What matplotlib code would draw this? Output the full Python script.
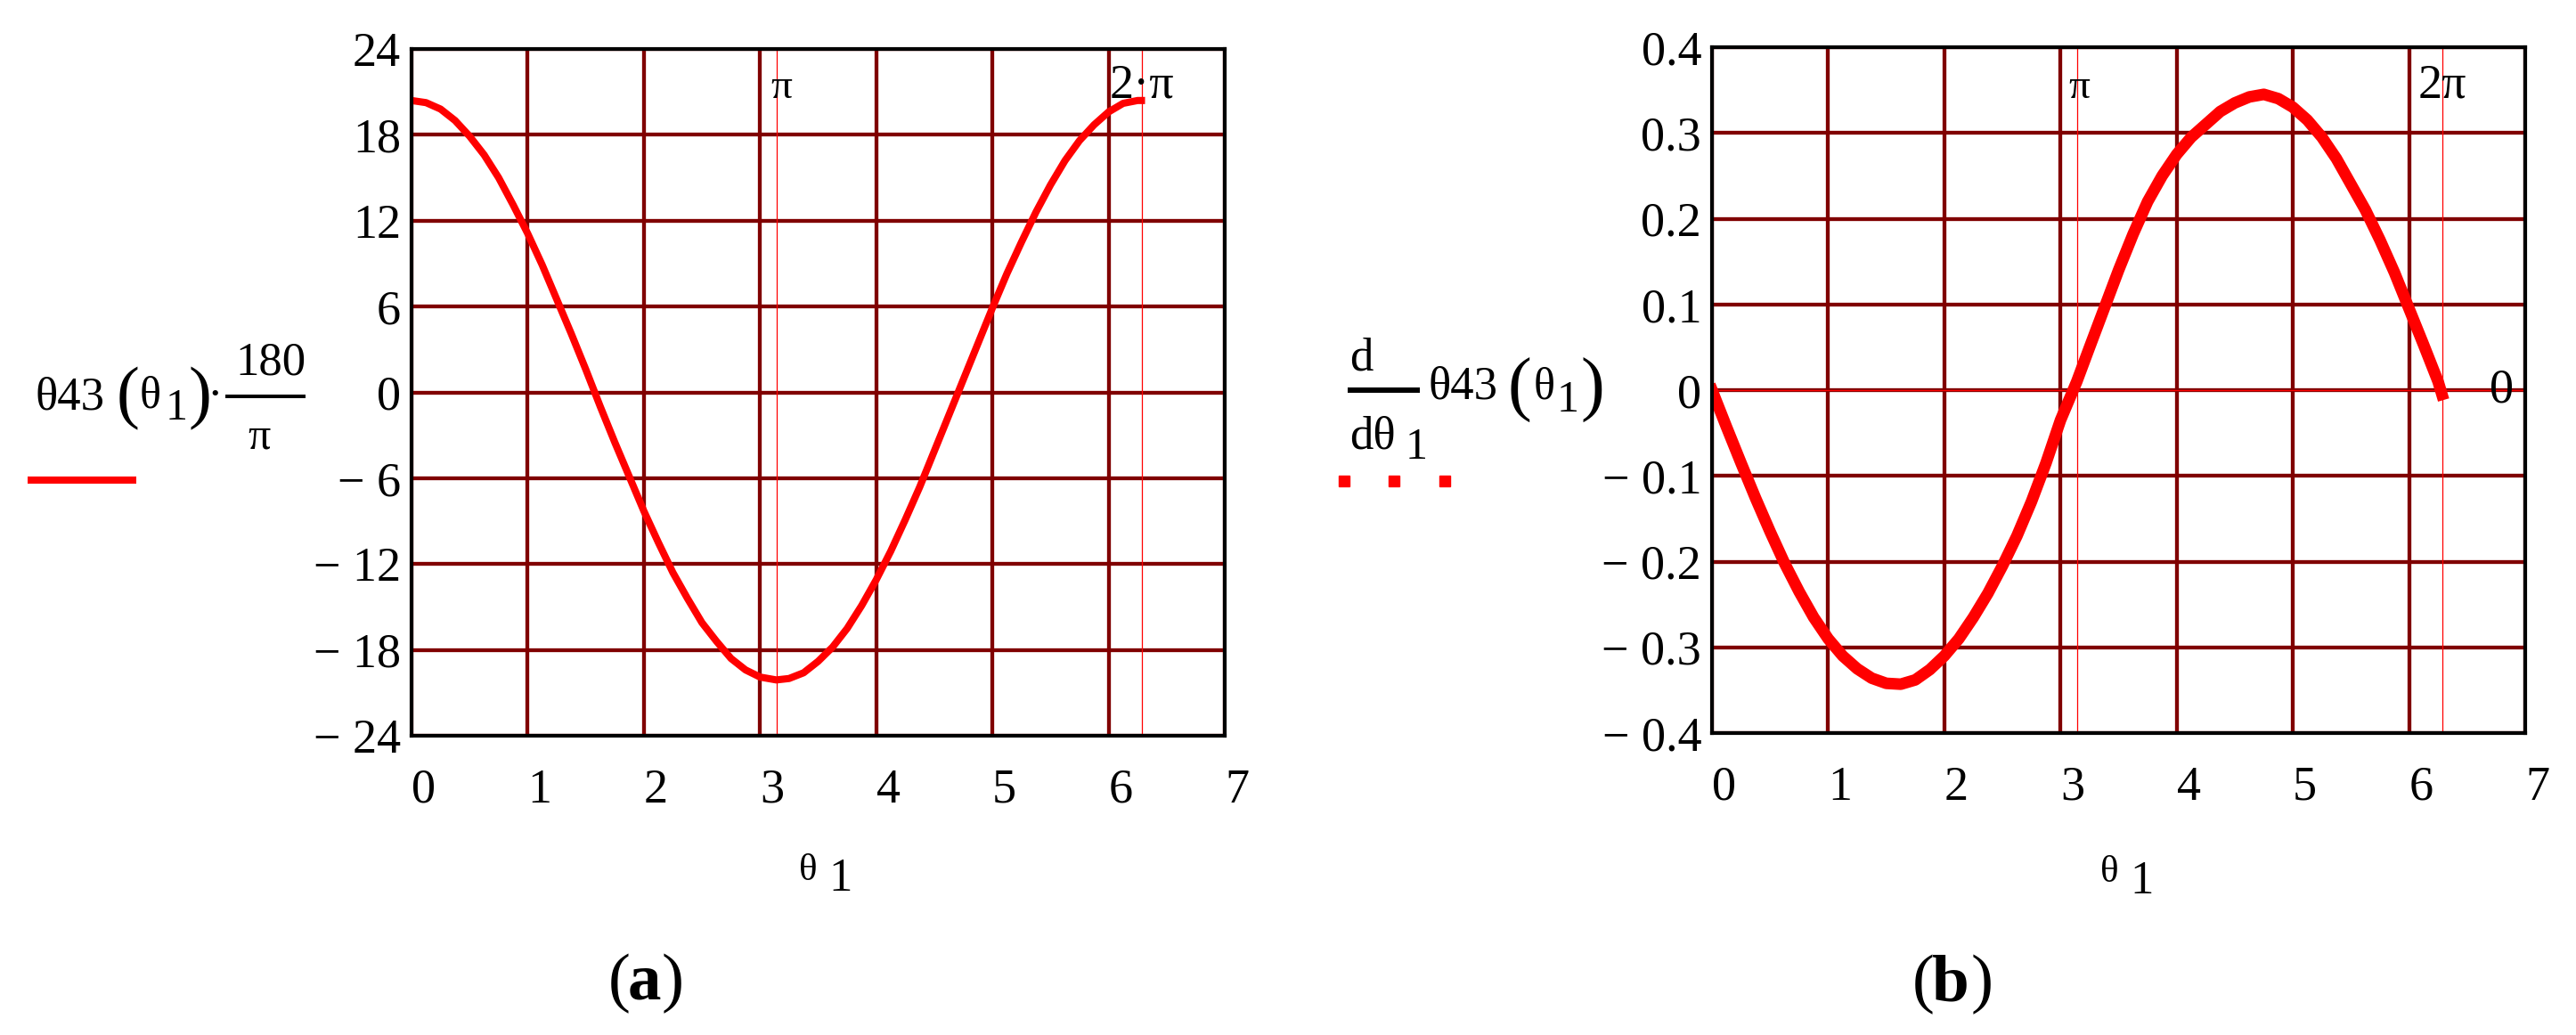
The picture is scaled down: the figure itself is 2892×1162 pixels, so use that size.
import numpy as np
import matplotlib.pyplot as plt
from matplotlib.lines import Line2D

plt.rcParams['font.family'] = ['Liberation Serif', 'DejaVu Serif']

# values
theta1 = [0, 0.125, 0.25, 0.375, 0.5, 0.625, 0.75, 0.875, 1.0, 1.125, 1.25, 1.375, 1.5,
          1.625, 1.75, 1.875, 2.0, 2.125, 2.25, 2.375, 2.5, 2.625, 2.75, 2.875, 3.0, 3.14,
          3.25, 3.375, 3.5, 3.625, 3.75, 3.875, 4.0, 4.125, 4.25, 4.375, 4.5, 4.625, 4.75,
          4.875, 5.0, 5.125, 5.25, 5.375, 5.5, 5.625, 5.75, 5.875, 6.0, 6.125, 6.25, 6.283]
theta43_deg = [20.4, 20.25, 19.8, 19.0, 17.9, 16.6, 15.0, 13.1, 11.1, 8.9, 6.5, 4.1, 1.6,
               -1.0, -3.5, -5.9, -8.3, -10.5, -12.6, -14.4, -16.1, -17.4, -18.6, -19.4, -19.9, -20.1,
               -20.0, -19.6, -18.8, -17.8, -16.5, -14.9, -13.1, -11.1, -8.9, -6.6, -4.1, -1.6, 0.9,
               3.4, 5.9, 8.3, 10.5, 12.6, 14.5, 16.2, 17.6, 18.7, 19.6, 20.2, 20.4, 20.4]
dtheta43 = [0.0, -0.043, -0.085, -0.126, -0.165, -0.202, -0.235, -0.265, -0.29, -0.31, -0.325,
            -0.336, -0.342, -0.343, -0.338, -0.326, -0.31, -0.29, -0.265, -0.237, -0.205, -0.17,
            -0.13, -0.085, -0.035, 0.01, 0.05, 0.095, 0.14, 0.182, 0.22, 0.25, 0.275, 0.295, 0.31,
            0.325, 0.335, 0.342, 0.345, 0.34, 0.33, 0.315, 0.295, 0.27, 0.24, 0.21, 0.175, 0.137,
            0.095, 0.053, 0.01, -0.005]

x_ticks = [0, 1, 2, 3, 4, 5, 6, 7]
left_yticks = [-24, -18, -12, -6, 0, 6, 12, 18, 24]
left_ylabels = ['\u2212 24', '\u2212 18', '\u2212 12', '\u2212 6', '0', '6', '12', '18', '24']
right_yticks = [-0.4, -0.3, -0.2, -0.1, 0, 0.1, 0.2, 0.3, 0.4]
right_ylabels = ['\u2212 0.4', '\u2212 0.3', '\u2212 0.2', '\u2212 0.1', '0', '0.1', '0.2', '0.3', '0.4']

W, H = 2892, 1162
fig = plt.figure(figsize=(W / 100, H / 100), dpi=100)


def fx(x):
    return x / W


def fy(y):
    return 1 - y / H


def txt(x, y, s, size=38, ha='left', **kw):
    fig.text(fx(x), fy(y), s, fontsize=size, ha=ha, va='baseline', **kw)


def hline(x0, x1, y, lw, color='black'):
    fig.add_artist(Line2D([fx(x0), fx(x1)], [fy(y), fy(y)], transform=fig.transFigure,
                          lw=lw, color=color, solid_capstyle='butt'))


def style(ax, yticks, ylabels, ylim):
    ax.set_xlim(0, 7)
    ax.set_ylim(*ylim)
    ax.set_xticks(x_ticks, [str(t) for t in x_ticks])
    for lab in ax.get_xticklabels():
        lab.set_ha('left')
    ax.set_yticks(yticks, ylabels)
    ax.tick_params(length=0, labelsize=39)
    ax.tick_params(axis='x', pad=26)
    ax.tick_params(axis='y', pad=8.5)
    ax.grid(True, color='#800000', lw=3.1)
    for s in ax.spines.values():
        s.set_linewidth(3)
        s.set_color('black')
        s.set_zorder(5)


ax1 = fig.add_axes([fx(462), fy(826), 913 / W, 771 / H])
style(ax1, left_yticks, left_ylabels, (-24, 24))
ax1.axvline(np.pi, color='red', lw=0.9, zorder=3)
ax1.axvline(2 * np.pi, color='red', lw=0.9, zorder=3)
ax1.plot(theta1, theta43_deg, color='#ff0000', lw=5.8, zorder=4, solid_joinstyle='round')
ax1.text(np.pi + 0.046, 0.9287, '\u03c0', transform=ax1.get_xaxis_transform(),
         fontsize=34, ha='center', va='baseline')
ax1.text(2 * np.pi, 0.9287, '2\u00b7\u03c0', transform=ax1.get_xaxis_transform(),
         fontsize=39, ha='center', va='baseline')

ax2 = fig.add_axes([fx(1922), fy(823), 913 / W, 770 / H])
style(ax2, right_yticks, right_ylabels, (-0.4, 0.4))
ax2.axvline(np.pi, color='red', lw=0.9, zorder=3)
ax2.axvline(2 * np.pi, color='red', lw=0.9, zorder=3)
ax2.axhline(0, color='red', lw=0.9, zorder=3)
ax2.plot(theta1, dtheta43, color='#ff0000', lw=9.4, zorder=4, solid_joinstyle='round')
ax2.text(np.pi + 0.02, 0.926, '\u03c0', transform=ax2.get_xaxis_transform(),
         fontsize=34, ha='center', va='baseline')
ax2.text(2 * np.pi, 0.926, '2\u03c0', transform=ax2.get_xaxis_transform(),
         fontsize=39, ha='center', va='baseline')
ax2.text(6.794, 0, '0', fontsize=39, ha='center', va='center')

# x labels
txt(907, 988, '\u03b8', size=31, ha='center')
txt(930, 1000, '1')
txt(2368, 990, '\u03b8', size=31, ha='center')
txt(2391, 1003, '1')

# left trace label
txt(40, 460, '\u03b843')
txt(131, 466, '(', size=56)
txt(157, 458, '\u03b8', size=36)
txt(186, 471, '1', size=36)
txt(211, 466, ')', size=56)
txt(241, 458, '\u00b7', ha='center')
hline(253, 343, 445, 2.9)
txt(304, 420, '180', ha='center')
txt(291, 503, '\u03c0', size=36, ha='center')
hline(31, 153, 539, 5.8, color='#ff0000')

# right trace label
txt(1515, 415, 'd')
hline(1513, 1594, 438, 4.3)
txt(1515, 503, 'd\u03b8')
txt(1578, 515, '1', size=36)
txt(1603, 448, '\u03b843')
txt(1692, 458, '(', size=58)
txt(1722, 448, '\u03b8', size=36)
txt(1748, 462, '1', size=36)
txt(1774, 458, ')', size=58)
fig.add_artist(Line2D([fx(1509), fx(1565), fx(1622)], [fy(540)] * 3, transform=fig.transFigure,
                      ls='none', marker='s', markersize=8.6, color='#ff0000'))

# panel captions
txt(683, 1122, '(', size=54)
txt(705, 1122, 'a', size=54, fontweight='bold')
txt(743, 1122, ')', size=54)
txt(2147, 1123, '(', size=54)
txt(2169, 1123, 'b', size=54, fontweight='bold')
txt(2213, 1123, ')', size=54)

fig.savefig('out.png', dpi=100)
